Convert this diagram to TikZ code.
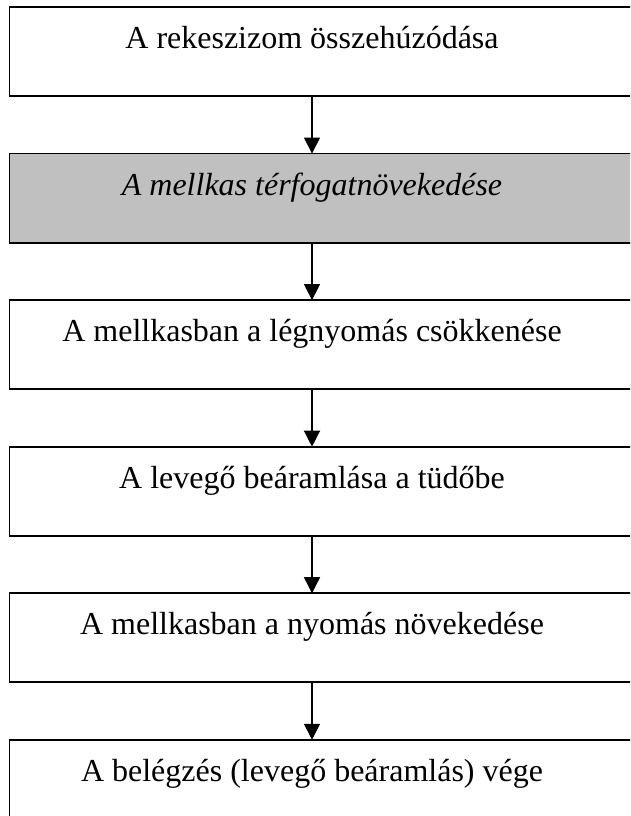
\documentclass[tikz,border=0pt]{standalone}
\usepackage{fontspec}
\setmainfont{Liberation Serif}
\usetikzlibrary{arrows.meta,positioning,backgrounds}
\definecolor{stepgray}{RGB}{192,192,192}
\tikzset{
    %Define standard arrow tip
    >={Triangle[length=6pt,width=6pt]},
    %Define style for the steps
    stepbox/.style={
           minimum width=226.5pt,
           text height=15.4pt,
           text depth=17.6pt,
           inner ysep=0pt,
           font=\fontsize{12}{14}\selectfont},
    % Define frame style
    frame/.style={
           draw,
           line width=0.65pt},
    % Define arrow style
    pil/.style={
           ->,
           line width=0.5pt}
}
\begin{document}
\begin{tikzpicture}[node distance=21.56pt]
	% page
	\useasboundingbox (0,0) rectangle (236.25pt,-306pt);

	% steps
	\node[stepbox, anchor=north] (s1) at (117pt,-2.625pt) {A rekeszizom összehúzódása};
	\node[stepbox, below=of s1] (s2) {\emph{A mellkas térfogatnövekedése}};
	\node[stepbox, below=of s2] (s3) {A mellkasban a légnyomás csökkenése};
	\node[stepbox, below=of s3] (s4) {A levegő beáramlása a tüdőbe};
	\node[stepbox, below=of s4] (s5) {A mellkasban a nyomás növekedése};
	\node[stepbox, below=of s5] (s6) {A belégzés (levegő beáramlás) vége};

	% frames
	\begin{scope}[on background layer]
		\clip (0,0) rectangle (236.25pt,-306pt);
		\foreach \s/\col in {s1/white,s2/stepgray,s3/white,s4/white,s5/white,s6/white}
			\draw[frame, fill=\col] (\s.north west) rectangle ([xshift=15pt]\s.south east);
	\end{scope}

	% arrows
	\foreach \a/\b in {s1/s2,s2/s3,s3/s4,s4/s5,s5/s6}
		\draw[pil] (\a) -- (\b);
\end{tikzpicture}
\end{document}
